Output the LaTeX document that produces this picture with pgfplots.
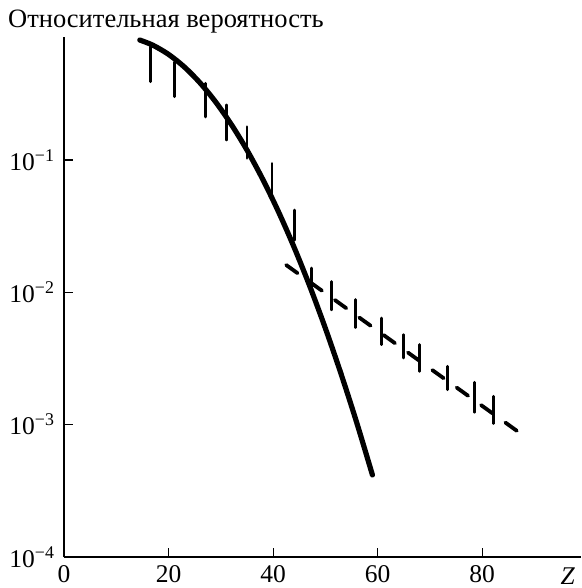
\documentclass[border=0pt]{standalone}
\usepackage{pgfplots}
\pgfplotsset{compat=1.18}
\usepackage{fontspec}
\setmainfont{Liberation Serif}
\begin{document}
\begin{tikzpicture}[x=1pt,y=1pt]
\begin{axis}[
  at={(0,0)}, anchor=south west,
  scale only axis, width=517pt, height=520pt,
  xmin=0, xmax=98.9, ymode=log, ymin=1e-4, ymax=0.851,
  axis x line*=bottom, axis y line*=left,
  axis line style={line width=1.1pt, black},
  xtick={0,20,40,60,80},
  ytick={1e-4,1e-3,1e-2,1e-1},
  yticklabels={10\textsuperscript{−4},10\textsuperscript{−3},10\textsuperscript{−2},10\textsuperscript{−1}},
  yminorticks=false, xminorticks=false,
  tick align=inside, major tick length=9pt,
  tick style={line width=1.1pt, black},
  ticklabel style={font=\fontsize{25.5}{30}\selectfont},
  xticklabel style={yshift=-5pt},
  yticklabel style={xshift=-6pt},
  /pgf/number format/assume math mode=true,
  clip=false,
]
% solid curve
\addplot[black, line width=5.2pt, smooth, line cap=round] coordinates {
(14.5,0.807) (17,0.738) (20,0.629) (23,0.506) (26,0.384) (29,0.275) (32,0.186)
(35,0.119) (38,0.0718) (41,0.0409) (44,0.0220) (47,0.01117) (50,0.00535)
(53,0.00242) (56,0.001035) (59,0.000417)};
% error bars on solid curve
\addplot[black, line width=2.8pt, line cap=round, unbounded coords=jump] coordinates {
(16.5,0.72) (16.5,0.391) (16.5,nan)
(21.1,0.55) (21.1,0.301) (21.1,nan)
(27.0,0.380) (27.0,0.212) (27.0,nan)
(31.1,0.261) (31.1,0.1416) (31.1,nan)
(35.0,0.1787) (35.0,0.1030) (35.0,nan)
(39.8,0.0944) (39.8,0.0543) (39.8,nan)
(44.1,0.0419) (44.1,0.0248)};
% dashed line
\addplot[black, line width=3.8pt, line cap=round, dash pattern=on 14pt off 16pt] coordinates {
(42.5,0.0161) (88.6,0.00079)};
% error bars on dashed line
\addplot[black, line width=2.8pt, line cap=round, unbounded coords=jump] coordinates {
(47.3,0.01528) (47.3,0.01059) (47.3,nan)
(51.2,0.01208) (51.2,0.00738) (51.2,nan)
(55.8,0.00883) (55.8,0.00542) (55.8,nan)
(60.7,0.0064) (60.7,0.00403) (60.7,nan)
(64.9,0.00479) (64.9,0.00319) (64.9,nan)
(68.0,0.00403) (68.0,0.00253) (68.0,nan)
(73.4,0.00276) (73.4,0.00184) (73.4,nan)
(78.6,0.00209) (78.6,0.00124) (78.6,nan)
(82.2,0.00164) (82.2,0.00102)};
\end{axis}
\node[anchor=base west, inner sep=0, font=\fontsize{26.5}{30}\selectfont] at (-56,529) {Относительная вероятность};
\node[anchor=base east, inner sep=0, font=\fontsize{25.5}{30}\selectfont\itshape] at (511,-27) {Z};
\path (-64,-31) rectangle (517,557);
\end{tikzpicture}
\end{document}
